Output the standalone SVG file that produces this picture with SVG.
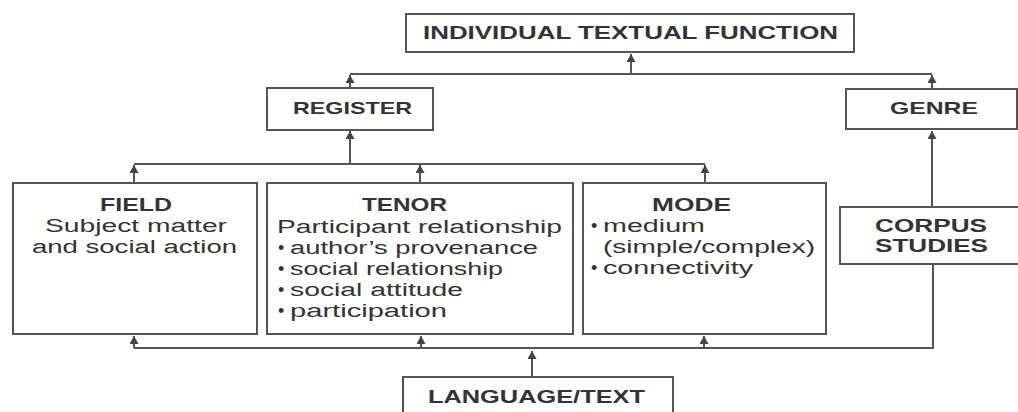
<svg xmlns="http://www.w3.org/2000/svg" width="1018" height="412" viewBox="0 0 1018 412">
<style>
.box{fill:#fff;stroke:#555;stroke-width:2}
.ln{fill:none;stroke:#555;stroke-width:2}
.t{font-family:"Liberation Sans",Arial,sans-serif;fill:#333}
.h{font-weight:bold;font-size:18px}
.b{font-size:18px}
</style>
<defs>
<marker id="ah" viewBox="0 0 8 9" refX="8" refY="4.5" markerWidth="8" markerHeight="9" orient="auto" markerUnits="userSpaceOnUse">
<path d="M0,0 L8,4.5 L0,9 z" fill="#444"/>
</marker>
</defs>
<rect width="1018" height="412" fill="#fff"/>
<g id="connectors">
<path class="ln" d="M350 74 H932"/>
<path class="ln" d="M350 88 V75" marker-end="url(#ah)"/>
<path class="ln" d="M932 89 V75" marker-end="url(#ah)"/>
<path class="ln" d="M631 74 V54" marker-end="url(#ah)"/>
<path class="ln" d="M350 164 V131" marker-end="url(#ah)"/>
<path class="ln" d="M134 164 H705"/>
<path class="ln" d="M134 183 V165" marker-end="url(#ah)"/>
<path class="ln" d="M420 183 V165" marker-end="url(#ah)"/>
<path class="ln" d="M705 183 V165" marker-end="url(#ah)"/>
<path class="ln" d="M134 348 H933 V264"/>
<path class="ln" d="M134 348 V336" marker-end="url(#ah)"/>
<path class="ln" d="M421 348 V336" marker-end="url(#ah)"/>
<path class="ln" d="M704 348 V336" marker-end="url(#ah)"/>
<path class="ln" d="M532 377 V351" marker-end="url(#ah)"/>
<path class="ln" d="M932 207 V131" marker-end="url(#ah)"/>
</g>
<g id="individual-textual-function">
<rect class="box" x="406" y="14" width="448" height="38"/>
<text class="t h" x="423" y="39" style="font-size:17.5px" textLength="415" lengthAdjust="spacingAndGlyphs">INDIVIDUAL TEXTUAL FUNCTION</text>
</g>
<g id="register">
<rect class="box" x="267" y="88" width="166" height="42"/>
<text class="t h" x="293" y="114" style="font-size:17px" textLength="119" lengthAdjust="spacingAndGlyphs">REGISTER</text>
</g>
<g id="genre">
<rect class="box" x="846" y="89" width="171" height="40"/>
<text class="t h" x="890" y="114" style="font-size:17px" textLength="88" lengthAdjust="spacingAndGlyphs">GENRE</text>
</g>
<g id="field">
<rect class="box" x="13" y="183" width="244" height="151"/>
<text class="t h" x="100" y="211" textLength="72" lengthAdjust="spacingAndGlyphs">FIELD</text>
<text class="t b" x="45" y="232" textLength="182" lengthAdjust="spacingAndGlyphs">Subject matter</text>
<text class="t b" x="32" y="253" textLength="205" lengthAdjust="spacingAndGlyphs">and social action</text>
</g>
<g id="tenor">
<rect class="box" x="267" y="183" width="306" height="151"/>
<text class="t h" x="362" y="211" textLength="85" lengthAdjust="spacingAndGlyphs">TENOR</text>
<text class="t b" x="277" y="233" textLength="285" lengthAdjust="spacingAndGlyphs">Participant relationship</text>
<text class="t b" x="278" y="254"><tspan>•</tspan><tspan x="290" textLength="248" lengthAdjust="spacingAndGlyphs">author’s provenance</tspan></text>
<text class="t b" x="278" y="275"><tspan>•</tspan><tspan x="290" textLength="213" lengthAdjust="spacingAndGlyphs">social relationship</tspan></text>
<text class="t b" x="278" y="296"><tspan>•</tspan><tspan x="290" textLength="173" lengthAdjust="spacingAndGlyphs">social attitude</tspan></text>
<text class="t b" x="278" y="317"><tspan>•</tspan><tspan x="290" textLength="157" lengthAdjust="spacingAndGlyphs">participation</tspan></text>
</g>
<g id="mode">
<rect class="box" x="583" y="183" width="243" height="151"/>
<text class="t h" x="652" y="211" textLength="79" lengthAdjust="spacingAndGlyphs">MODE</text>
<text class="t b" x="591" y="232"><tspan>•</tspan><tspan x="603" textLength="102" lengthAdjust="spacingAndGlyphs">medium</tspan></text>
<text class="t b" x="603" y="253" textLength="212" lengthAdjust="spacingAndGlyphs">(simple/complex)</text>
<text class="t b" x="591" y="274"><tspan>•</tspan><tspan x="603" textLength="150" lengthAdjust="spacingAndGlyphs">connectivity</tspan></text>
</g>
<g id="corpus-studies">
<rect class="box" x="840" y="207" width="190" height="57"/>
<text class="t h" x="875" y="232" style="font-size:17.5px" textLength="112" lengthAdjust="spacingAndGlyphs">CORPUS</text>
<text class="t h" x="875" y="252" style="font-size:17.5px" textLength="113" lengthAdjust="spacingAndGlyphs">STUDIES</text>
</g>
<g id="language-text">
<rect class="box" x="403" y="377" width="270" height="45"/>
<text class="t h" x="428" y="403" textLength="217" lengthAdjust="spacingAndGlyphs">LANGUAGE/TEXT</text>
</g>
</svg>
